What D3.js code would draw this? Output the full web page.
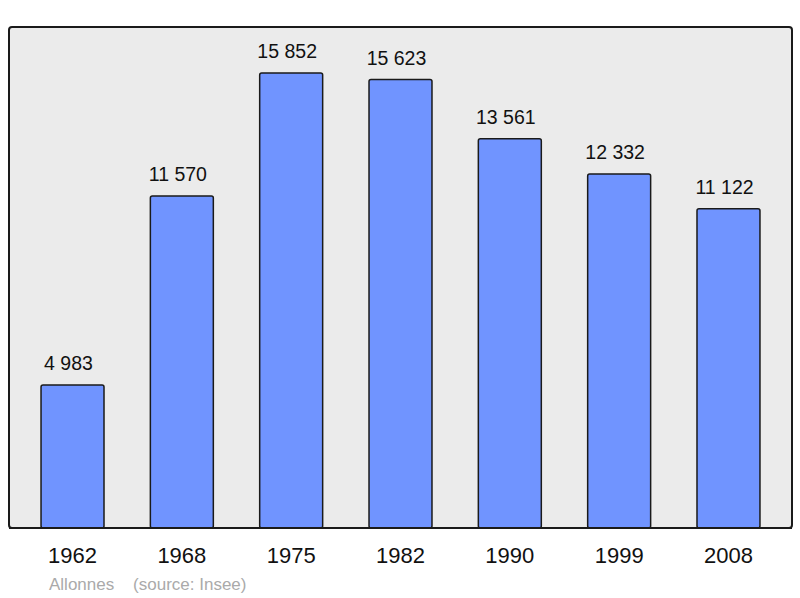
<!DOCTYPE html>
<html><head><meta charset="utf-8">
<script src="https://cdn.jsdelivr.net/npm/d3@7"></script>
<style>body{margin:0;background:#fff}svg{display:block}</style>
</head><body>
<script>
const years = ["1962","1968","1975","1982","1990","1999","2008"];
const population = [4983,11570,15852,15623,13561,12332,11122];
const labels = ["4 983","11 570","15 852","15 623","13 561","12 332","11 122"];
const footer = "Allonnes    (source: Insee)";

const W=800,H=598;
const svg=d3.select("body").append("svg").attr("width",W).attr("height",H);
const L=9,R=792,T=27,B=528;
svg.append("rect").attr("x",L).attr("y",T).attr("width",R-L).attr("height",B-T)
  .attr("rx",3).attr("fill","#ebebeb").attr("stroke","#1a1a1a").attr("stroke-width",2);
const x=d3.scaleBand().domain(years).range([L,R]).paddingInner(0.424).paddingOuter(0.293);
const y=d3.scaleLinear().domain([0,17455]).range([B,T]);
const data=years.map((yr,i)=>({yr,v:population[i],lab:labels[i]}));
svg.selectAll("rect.bar").data(data).join("rect").attr("class","bar")
  .attr("x",d=>x(d.yr)).attr("y",d=>y(d.v)).attr("width",x.bandwidth()).attr("height",d=>B-y(d.v))
  .attr("rx",2).attr("fill","#7094ff").attr("stroke","#1a1a1a").attr("stroke-width",1.5);
svg.selectAll("text.val").data(data).join("text").attr("class","val")
  .attr("x",d=>x(d.yr)+x.bandwidth()/2-4).attr("y",d=>y(d.v)-15)
  .attr("text-anchor","middle").attr("font-family","Liberation Sans, Arial, sans-serif")
  .attr("font-size",19.5).attr("fill","#111").text(d=>d.lab);
svg.append("line").attr("x1",L).attr("x2",R).attr("y1",B).attr("y2",B).attr("stroke","#1a1a1a").attr("stroke-width",2);
const ax=svg.append("g").attr("transform",`translate(0,${B})`).call(d3.axisBottom(x).tickSize(0).tickPadding(0));
ax.select(".domain").remove();
ax.selectAll("text").attr("y",35).attr("dy",0).attr("font-family","Liberation Sans, Arial, sans-serif")
  .attr("font-size",22).attr("fill","#111");
svg.append("text").attr("x",49).attr("y",590).attr("font-family","Liberation Sans, Arial, sans-serif")
  .attr("font-size",17).attr("fill","#aaaaaa").attr("xml:space","preserve").style("white-space","pre").text(footer);
</script>
</body></html>
